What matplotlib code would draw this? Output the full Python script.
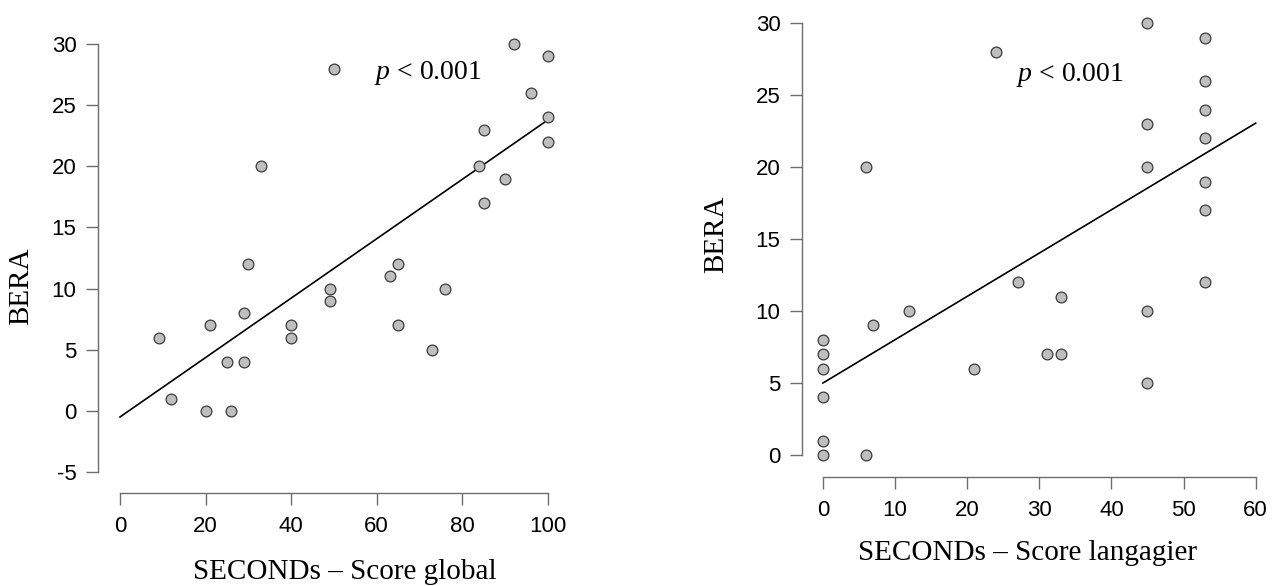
import numpy as np
import matplotlib
matplotlib.use('Agg')
import matplotlib.pyplot as plt

# données
glob_x = [9, 12, 20, 21, 25, 26, 29, 29, 30, 33, 40, 40, 49, 49, 50, 63, 65, 65,
          73, 76, 84, 85, 85, 90, 92, 96, 100, 100, 100]
glob_y = [6, 1, 0, 7, 4, 0, 8, 4, 12, 20, 7, 6, 10, 9, 28, 11, 12, 7,
          5, 10, 20, 23, 17, 19, 30, 26, 29, 24, 22]
glob_fit = (-0.5, 0.243)  # intercept, pente

lang_x = [0, 0, 0, 0, 0, 0, 6, 6, 7, 12, 21, 24, 27, 31, 33, 33,
          45, 45, 45, 45, 45, 53, 53, 53, 53, 53, 53, 53]
lang_y = [0, 1, 4, 6, 7, 8, 0, 20, 9, 10, 6, 28, 12, 7, 7, 11,
          30, 23, 20, 10, 5, 29, 26, 24, 22, 19, 17, 12]
lang_fit = (5.0, 0.301)

glob_xticks = [0, 20, 40, 60, 80, 100]
glob_yticks = [-5, 0, 5, 10, 15, 20, 25, 30]
lang_xticks = [0, 10, 20, 30, 40, 50, 60]
lang_yticks = [0, 5, 10, 15, 20, 25, 30]

W, H = 1275, 586
plt.rcParams['axes.unicode_minus'] = False
plt.rcParams['mathtext.fontset'] = 'custom'
plt.rcParams['mathtext.it'] = 'Liberation Serif:italic'
plt.rcParams['mathtext.rm'] = 'Liberation Serif'

fig = plt.figure(figsize=(W / 100, H / 100), dpi=100)

SANS = 'Liberation Sans'
SERIF = 'Liberation Serif'
AXC = '#6e6e6e'


def px_axes(x0, y0, x1, y1):
    # rectangle en pixels (origine en haut à gauche)
    return fig.add_axes([x0 / W, 1 - y1 / H, (x1 - x0) / W, (y1 - y0) / H])


def draw(ax, xs, ys, fit, xticks, yticks, xlim, ylim, ptxt):
    ax.scatter(xs, ys, s=60, c='#bebebe', edgecolors='#3a3a3a', linewidths=0.9,
               zorder=3, clip_on=False)
    x0, x1 = xticks[0], xticks[-1]
    ax.plot([x0, x1], [fit[0] + fit[1] * x0, fit[0] + fit[1] * x1],
            color='black', lw=1.2, zorder=2)
    ax.set_xlim(*xlim)
    ax.set_ylim(*ylim)
    for s in ['top', 'right']:
        ax.spines[s].set_visible(False)
    ax.spines['left'].set_bounds(yticks[0], yticks[-1])
    ax.spines['bottom'].set_bounds(xticks[0], xticks[-1])
    for s in ['left', 'bottom']:
        ax.spines[s].set_color(AXC)
        ax.spines[s].set_linewidth(1.0)
    ax.set_xticks(xticks)
    ax.set_yticks(yticks)
    ax.tick_params(length=8.5, width=1.0, color=AXC, labelsize=16, pad=7)
    ax.tick_params(axis='x', pad=8)
    for lab in ax.get_xticklabels() + ax.get_yticklabels():
        lab.set_fontfamily(SANS)
    ax.text(ptxt[0], ptxt[1], r'$\it{p}$ < 0.001', fontsize=20, family=SERIF,
            ha='center', va='center')
    ax.patch.set_alpha(0)


ax1 = px_axes(98, 27, 565, 493)
draw(ax1, glob_x, glob_y, glob_fit, glob_xticks, glob_yticks,
     (-5.14, 104), (-6.72, 31.4), (72, 27.6))

ax2 = px_axes(802, 6, 1273, 477)
draw(ax2, lang_x, lang_y, lang_fit, lang_xticks, lang_yticks,
     (-2.9, 62.4), (-1.53, 31.2), (34.3, 26.4))

fig.text(345 / W, 1 - 572 / H, 'SECONDs – Score global', family=SERIF,
         fontsize=21, ha='center', va='center')
fig.text(21 / W, 1 - 286 / H, 'BERA', family=SERIF, fontsize=21,
         ha='center', va='center', rotation=90)
fig.text(1028 / W, 1 - 553 / H, 'SECONDs – Score langagier', family=SERIF,
         fontsize=21, ha='center', va='center')
fig.text(716 / W, 1 - 234 / H, 'BERA', family=SERIF, fontsize=21,
         ha='center', va='center', rotation=90)

fig.savefig('out.png', dpi=100)
